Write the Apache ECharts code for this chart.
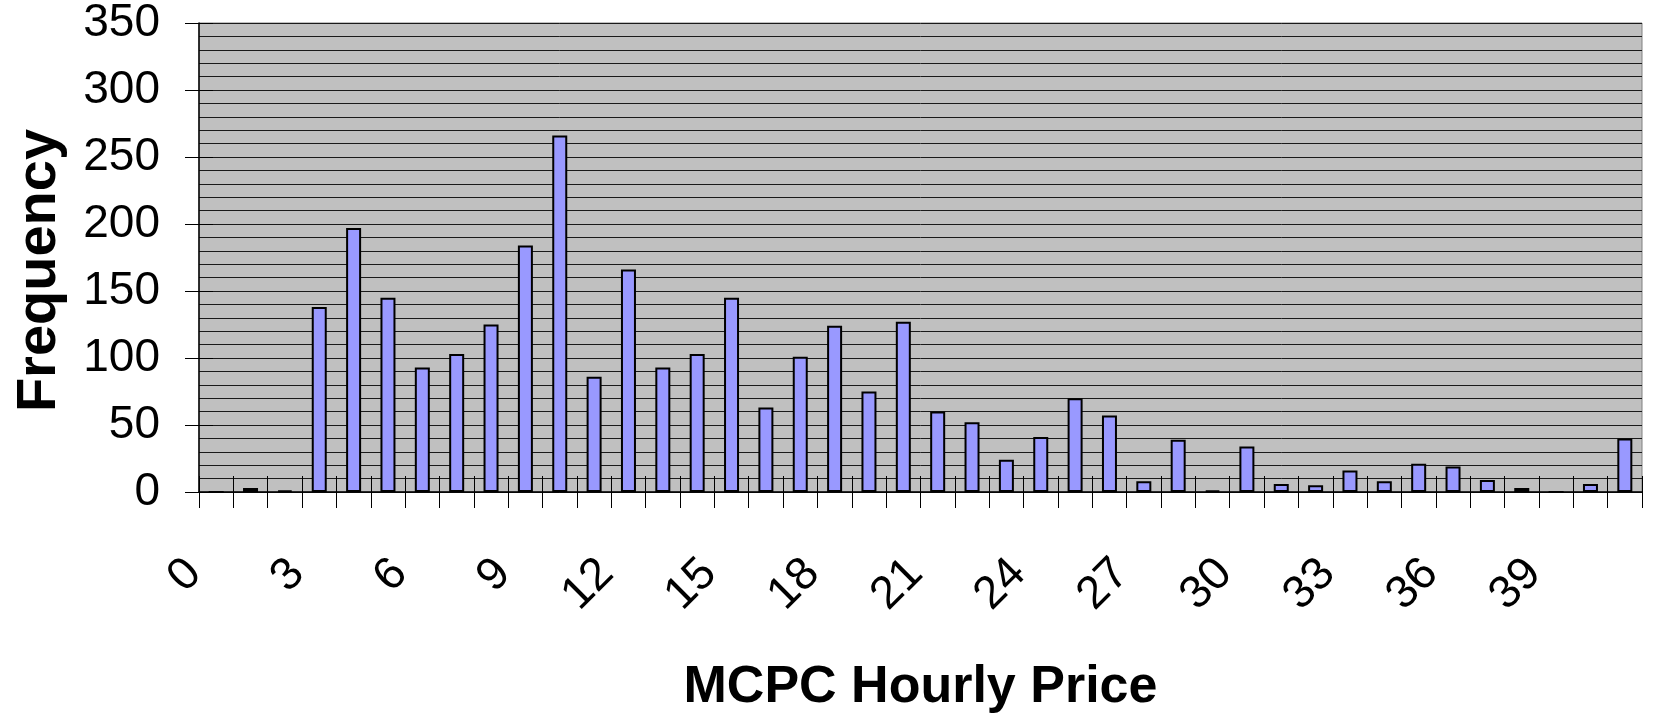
<!DOCTYPE html>
<html>
<head>
<meta charset="utf-8">
<script src="https://cdn.jsdelivr.net/npm/echarts@6/dist/echarts.min.js"></script>
<style>
html,body{margin:0;padding:0;background:#fff;}
#chart{width:1656px;height:719px;}
</style>
</head>
<body>
<div id="chart"></div>
<script>
// Categories (MCPC hourly price bins)
const categories = ['0','1','2','3','4','5','6','7','8','9','10','11','12','13','14','15','16','17','18','19','20','21','22','23','24','25','26','27','28','29','30','31','32','33','34','35','36','37','38','39','40','41'];
// Boundary labels (one extra boundary at the right end)
const boundaryLabels = categories.concat(['42']);
// Frequency values
const frequency = [0, 3, 1, 138, 197, 145, 93, 103, 125, 184, 266, 86, 166, 93, 103, 145, 63, 101, 124, 75, 127, 60, 52, 24, 41, 70, 57, 8, 39, 1, 34, 6, 5, 16, 8, 21, 19, 9, 3, 0, 6, 40];
const yMin = 0, yMax = 350, yStep = 50;
const xTitle = 'MCPC Hourly Price';
const yTitle = 'Frequency';

const FONT = "'Liberation Sans', Arial, sans-serif";

const chart = echarts.init(document.getElementById('chart'), null, {renderer: 'canvas'});
chart.setOption({
  animation: false,
  backgroundColor: '#ffffff',
  grid: {
    left: 199, right: 14, top: 23, bottom: 223.5,
    show: true, backgroundColor: '#C0C0C0', borderColor: '#808080', borderWidth: 1
  },
  xAxis: [
    {
      type: 'category', data: categories, boundaryGap: true, position: 'bottom',
      axisLine: {show: true, lineStyle: {color: '#000', width: 1.5}},
      axisTick: {show: true, inside: true, length: 16, interval: 0, alignWithLabel: false, lineStyle: {color: '#000', width: 1}},
      axisLabel: {show: false},
      splitLine: {show: false},
      name: xTitle, nameLocation: 'middle', nameGap: 170,
      nameTextStyle: {fontFamily: FONT, fontWeight: 'bold', fontSize: 52, color: '#000'}
    },
    {
      type: 'category', data: boundaryLabels, boundaryGap: false, position: 'bottom',
      axisLine: {show: false},
      axisTick: {show: true, inside: false, length: 16, interval: 0, lineStyle: {color: '#000', width: 1}},
      axisLabel: {
        show: true, rotate: 45, margin: 69.5, padding: [0, 7, 0, 0],
        interval: function (i) { return i % 3 === 0 && i < categories.length; },
        fontFamily: FONT, fontSize: 46, color: '#000'
      },
      splitLine: {show: false}
    }
  ],
  yAxis: [
    {
      type: 'value', min: yMin, max: yMax, interval: yStep,
      axisLine: {show: true, lineStyle: {color: '#000', width: 1.5}},
      axisTick: {show: true, inside: false, length: 14, lineStyle: {color: '#000', width: 1}},
      axisLabel: {show: true, margin: 39, fontFamily: FONT, fontSize: 46, color: '#000'},
      splitLine: {show: true, lineStyle: {color: '#1a1a1a', width: 1}},
      minorTick: {show: false, splitNumber: 5},
      minorSplitLine: {show: true, lineStyle: {color: '#1a1a1a', width: 1}},
      name: yTitle, nameLocation: 'middle', nameGap: 131,
      nameTextStyle: {fontFamily: FONT, fontWeight: 'bold', fontSize: 56, color: '#000', padding: [0, 26, 0, 0]}
    },
    {
      type: 'value', min: yMin, max: yMax, interval: yStep, position: 'left',
      axisLine: {show: false},
      axisTick: {show: true, inside: true, length: 14, lineStyle: {color: '#000', width: 1}},
      axisLabel: {show: false},
      splitLine: {show: false}
    }
  ],
  series: [
    {
      type: 'bar', data: frequency, xAxisIndex: 0, yAxisIndex: 0,
      barWidth: 15,
      itemStyle: {color: '#9999FF', borderColor: '#000', borderWidth: 2}
    }
  ]
});
</script>
</body>
</html>
